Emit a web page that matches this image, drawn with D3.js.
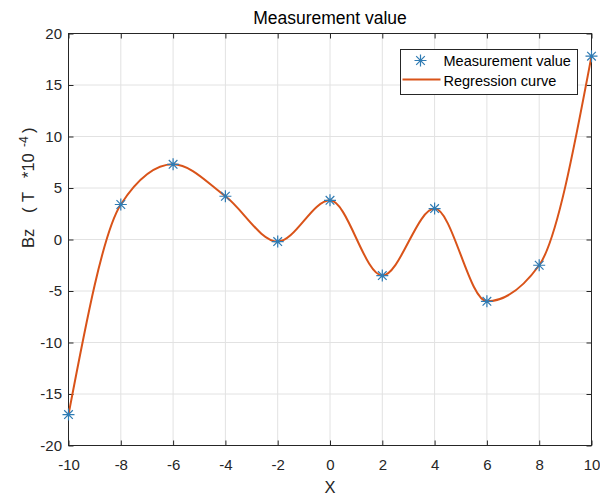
<!DOCTYPE html>
<html>
<head>
<meta charset="utf-8">
<script src="https://cdn.jsdelivr.net/npm/d3@7"></script>
<style>
  body { margin: 0; background: #fff; }
  text { font-family: "Liberation Sans", Arial, sans-serif; }
</style>
</head>
<body>
<div id="chart"></div>
<script>
// measured data
var xValues = [-10, -8, -6, -4, -2, 0, 2, 4, 6, 8, 10];
var bzValues = [-17.0, 3.4, 7.3, 4.2, -0.2, 3.8, -3.5, 3.0, -6.0, -2.5, 17.8];
var xTicks = [-10, -8, -6, -4, -2, 0, 2, 4, 6, 8, 10];
var yTicks = [-20, -15, -10, -5, 0, 5, 10, 15, 20];

var W = 600, H = 495;
var margin = {top: 33.5, right: 8.5, bottom: 49.5, left: 68.5},
    width = W - margin.left - margin.right,
    height = H - margin.top - margin.bottom;

var svg = d3.select("#chart").append("svg")
    .attr("width", W)
    .attr("height", H);

var g = svg.append("g")
    .attr("transform", "translate(" + margin.left + "," + margin.top + ")");

var x = d3.scaleLinear().domain([-10, 10]).range([0, width]);
var y = d3.scaleLinear().domain([-20, 20]).range([height, 0]);

// grid
g.append("g").selectAll("line")
    .data(xTicks).enter().append("line")
    .attr("x1", function (d) { return x(d); })
    .attr("x2", function (d) { return x(d); })
    .attr("y1", 0).attr("y2", height)
    .attr("stroke", "#e2e2e2").attr("stroke-width", 1);
g.append("g").selectAll("line")
    .data(yTicks).enter().append("line")
    .attr("y1", function (d) { return y(d); })
    .attr("y2", function (d) { return y(d); })
    .attr("x1", 0).attr("x2", width)
    .attr("stroke", "#e2e2e2").attr("stroke-width", 1);

// axes (ticks point inward, box all round)
var axisColor = "#262626";
var fmt = function (d) { return String(d); };   // plain hyphen minus
function styleAxis(sel, showText) {
    sel.select(".domain").remove();
    sel.selectAll(".tick line").attr("stroke", axisColor);
    sel.selectAll(".tick text")
        .attr("fill", axisColor)
        .style("font-size", "15px")
        .style("display", showText ? null : "none");
}

var xb = g.append("g").attr("transform", "translate(0," + height + ")")
    .call(d3.axisBottom(x).tickValues(xTicks).tickFormat(fmt).tickSizeInner(-5).tickPadding(14));
styleAxis(xb, true);
var xt = g.append("g")
    .call(d3.axisTop(x).tickValues(xTicks).tickSizeInner(-5));
styleAxis(xt, false);
var yl = g.append("g")
    .call(d3.axisLeft(y).tickValues(yTicks).tickFormat(fmt).tickSizeInner(-5).tickPadding(6.5));
styleAxis(yl, true);
var yr = g.append("g").attr("transform", "translate(" + width + ",0)")
    .call(d3.axisRight(y).tickValues(yTicks).tickSizeInner(-5));
styleAxis(yr, false);

g.append("rect")
    .attr("width", width).attr("height", height)
    .attr("fill", "none").attr("stroke", axisColor).attr("stroke-width", 1);

// regression curve
var pts = xValues.map(function (v, i) { return [v, bzValues[i]]; });
var curveColor = "#D95319", starColor = "#2f7bb3";
g.append("path")
    .datum(pts)
    .attr("fill", "none")
    .attr("stroke", curveColor)
    .attr("stroke-width", 2)
    .attr("d", d3.line()
        .x(function (d) { return x(d[0]); })
        .y(function (d) { return y(d[1]); })
        .curve(d3.curveMonotoneX));

// star markers
function star(r) {
    var a = r * 0.72;
    return "M0," + (-r) + "L0," + r +
        "M" + (-r) + ",0L" + r + ",0" +
        "M" + (-a) + "," + (-a) + "L" + a + "," + a +
        "M" + (-a) + "," + a + "L" + a + "," + (-a);
}
g.append("g").selectAll("path")
    .data(pts).enter().append("path")
    .attr("transform", function (d) { return "translate(" + x(d[0]) + "," + y(d[1]) + ")"; })
    .attr("d", star(6))
    .attr("stroke", starColor)
    .attr("stroke-width", 1.2)
    .attr("fill", "none");

// title and labels
svg.append("text")
    .attr("x", margin.left + width / 2).attr("y", 24)
    .attr("text-anchor", "middle")
    .style("font-size", "17.5px")
    .attr("fill", "#000")
    .text("Measurement value");

svg.append("text")
    .attr("x", margin.left + width / 2).attr("y", 493)
    .attr("text-anchor", "middle")
    .style("font-size", "16.5px")
    .attr("fill", axisColor)
    .text("X");

// y label, spaced wide like the original
var ylab = svg.append("text")
    .attr("transform", "translate(34,248) rotate(-90)")
    .attr("text-anchor", "start")
    .style("font-size", "16.5px")
    .attr("fill", axisColor);
ylab.append("tspan").attr("x", 0).text("Bz");
ylab.append("tspan").attr("x", 35).text("(");
ylab.append("tspan").attr("x", 46).text("T");
ylab.append("tspan").attr("x", 70).text("*10");
ylab.append("tspan").attr("x", 101).attr("dy", -6).style("font-size", "12px").text("-4");
ylab.append("tspan").attr("x", 115).attr("dy", 6).text(")");

// legend
var lg = svg.append("g").attr("transform", "translate(400.5,49.5)");
lg.append("rect")
    .attr("width", 177).attr("height", 45)
    .attr("fill", "#fff").attr("stroke", axisColor).attr("stroke-width", 1);
lg.append("path")
    .attr("transform", "translate(20,11)")
    .attr("d", star(6))
    .attr("stroke", starColor).attr("stroke-width", 1.2).attr("fill", "none");
lg.append("line")
    .attr("x1", 2).attr("x2", 40).attr("y1", 30).attr("y2", 30)
    .attr("stroke", curveColor).attr("stroke-width", 2);
lg.append("text").attr("x", 43).attr("y", 16.5)
    .style("font-size", "14.5px").attr("fill", "#000").text("Measurement value");
lg.append("text").attr("x", 43).attr("y", 36)
    .style("font-size", "14.5px").attr("fill", "#000").text("Regression curve");
</script>
</body>
</html>
